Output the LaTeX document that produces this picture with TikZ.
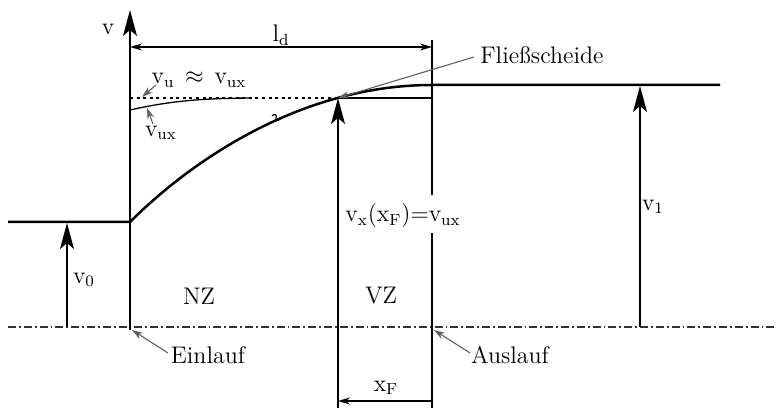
\documentclass[tikz,border=0pt]{standalone}
\usetikzlibrary{arrows.meta}
\begin{document}
\begin{tikzpicture}[x=0.5pt,y=-0.5pt,
  thinline/.style={line width=0.65pt},
  thickline/.style={line width=1.25pt},
  bigarrow/.style={-{Stealth[length=13pt,width=7pt,inset=3pt]},line width=0.7pt},
  dimarrow/.style={{Stealth[length=6pt,width=3.5pt]}-{Stealth[length=6pt,width=3.5pt]},line width=0.6pt},
  dimarrowl/.style={{Stealth[length=6pt,width=3.5pt]}-,line width=0.6pt},
  pointer/.style={-{Stealth[length=5.5pt,width=3.5pt]},gray!75!black,line width=0.55pt},
  axisline/.style={dash pattern=on 4pt off 1.5pt on 0.9pt off 1.5pt,line width=0.55pt,black!80},
  lbl/.style={font=\fontsize{12}{14}\selectfont, inner sep=1pt}]
\useasboundingbox (0,0) rectangle (777,410);

% key coordinates
\coordinate (base0) at (8,327);
\coordinate (base1) at (777,327);
\coordinate (inB) at (130,330);
\coordinate (inT) at (130,10);
\coordinate (outT) at (432,40);
\coordinate (outM1) at (432,195);
\coordinate (outM2) at (432,233);
\coordinate (outB) at (432,408);
\coordinate (fB) at (338,408);
\coordinate (fT) at (338,98);
\coordinate (v0L) at (8,222);
\coordinate (v0R) at (130,222);
\coordinate (v1L) at (432,85);
\coordinate (v1R) at (720,85);
\coordinate (v0aB) at (67,327);
\coordinate (v0aT) at (67,223);
\coordinate (v1aB) at (640,327);
\coordinate (v1aT) at (640,86);
\coordinate (ldL) at (130,47);
\coordinate (ldR) at (432,47);
\coordinate (xfL) at (338,401);
\coordinate (xfR) at (432,401);
\coordinate (dotL) at (130,98);
\coordinate (dotR) at (335,98);
\coordinate (dotE) at (432,98);
\coordinate (uxS) at (130,110);
\coordinate (fsTail) at (474,57);

% baseline
\draw[axisline] (base0) -- (base1);

% vertical lines
\draw[thinline] (inB) -- (v0R);
\draw[bigarrow] (v0R) -- (inT);
\draw[thinline] (outT) -- (outM1);
\draw[thinline] (outM2) -- (outB);
\draw[bigarrow] (fB) -- (fT);

% velocity arrows
\draw[bigarrow] (v0aB) -- (v0aT);
\draw[bigarrow] (v1aB) -- (v1aT);

% velocity profile
\draw[thickline] (v0L) -- (v0R) .. controls (190,162) and (300,85) .. (v1L) -- (v1R);
\draw[line width=0.6pt] (272,116) .. controls (274,113) and (278,115) .. (276,118) .. controls (275,120) and (279,121) .. (280,119);

% v_ux curve and v_u line
\draw[line width=0.6pt, dash pattern=on 1.5pt off 1.8pt] (dotL) -- (dotR);
\draw[thinline] (dotR) -- (dotE);
\draw[thinline] (uxS) .. controls (170,101) and (200,98.5) .. (250,98);

% dimension arrows
\draw[dimarrow] (ldL) -- (ldR);
\draw[dimarrowl] (xfL) -- (xfR);

% labels
\node[lbl] (lv) at (108,29) {v};
\node[lbl] (lld) at (281,35) {$\mathrm{l}_{\mathrm{d}}$};
\node[lbl] (lvu) at (199,80) {$\mathrm{v}_{\mathrm{u}}\,\approx\,\mathrm{v}_{\mathrm{ux}}$};
\node[lbl] (lvux) at (161,133) {$\mathrm{v}_{\mathrm{ux}}$};
\node[lbl,anchor=west] (lfs) at (478,55) {Fließscheide};
\node[lbl] (lvx) at (403,216) {$\mathrm{v}_{\mathrm{x}}(\mathrm{x}_{\mathrm{F}}){=}\mathrm{v}_{\mathrm{ux}}$};
\node[lbl] (lv1) at (653,207) {$\mathrm{v}_{1}$};
\node[lbl] (lv0) at (84,280) {$\mathrm{v}_{0}$};
\node[lbl] (lnz) at (199,296) {NZ};
\node[lbl] (lvz) at (381,296) {VZ};
\node[lbl] (lein) at (208,355) {Einlauf};
\node[lbl] (laus) at (510,355) {Auslauf};
\node[lbl] (lxf) at (386,388) {$\mathrm{x}_{\mathrm{F}}$};

% pointers
\draw[pointer] (fsTail) -- (fT);
\draw[pointer] (156,85) -- (142,97);
\draw[pointer] (153,124) -- (147,108);
\draw[pointer] (168,353) -- (132,330);
\draw[pointer] (470,353) -- (434,330);
\end{tikzpicture}
\end{document}
